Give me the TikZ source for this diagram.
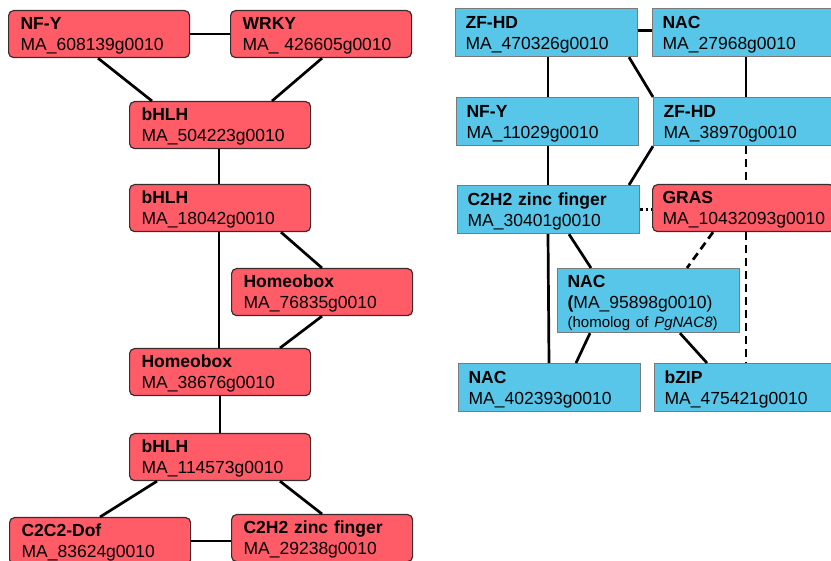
\documentclass[tikz,border=0pt]{standalone}
\usepackage{fontspec}
\setmainfont{Liberation Sans}
\definecolor{redc}{HTML}{FF5C68}
\definecolor{redb}{HTML}{3A2B2D}
\definecolor{bluec}{HTML}{58C6E8}
\definecolor{blueb}{HTML}{7A7A7A}
\begin{document}
\begin{tikzpicture}[x=1pt,y=-1pt,
  txt/.style={font=\fontsize{17.5}{21}\selectfont, align=left, anchor=north west},
  redbox/.style={txt, fill=redc, draw=redb, line width=1.2pt, rounded corners=5pt,
    minimum width=181pt, minimum height=47pt, text width=157pt, inner xsep=12pt, inner ysep=0pt},
  bluebox/.style={txt, fill=bluec, draw=blueb, line width=1.2pt,
    minimum width=182pt, minimum height=48pt, text width=162pt, inner xsep=10pt, inner ysep=0pt},
  link/.style={line width=2.7pt, black},
  dlink/.style={line width=2.7pt, black, dash pattern=on 8pt off 5pt},
  olink/.style={line width=2.7pt, black, dash pattern=on 2.5pt off 3pt}]
\useasboundingbox (0,0) rectangle (831,561);
\clip (0,0) rectangle (831,561);
\newcommand{\fl}{\rule{0pt}{16pt}}
% left column
\node[redbox] (nfy) at (8,10) {\fl\textbf{NF-Y}\\MA\_608139g0010};
\node[redbox] (wrky) at (230,10) {\fl\textbf{WRKY}\\MA\_ 426605g0010};
\node[redbox] (bhlha) at (129,101) {\fl\textbf{bHLH}\\MA\_504223g0010};
\node[redbox] (bhlhb) at (129,184) {\fl\textbf{bHLH}\\MA\_18042g0010};
\node[redbox] (hba) at (231,268) {\fl\textbf{Homeobox}\\MA\_76835g0010};
\node[redbox] (hbb) at (129,348) {\fl\textbf{Homeobox}\\MA\_38676g0010};
\node[redbox] (bhlhc) at (129,433) {\fl\textbf{bHLH}\\MA\_114573g0010};
\node[redbox] (dof) at (9,517) {\fl\textbf{C2C2-Dof}\\MA\_83624g0010};
\node[redbox] (zfl) at (231,514) {\fl\textbf{C2H2 zinc finger}\\MA\_29238g0010};
% right column
\node[bluebox] (zfa) at (455,8) {\fl\textbf{ZF-HD}\\MA\_470326g0010};
\node[bluebox] (naca) at (652,8) {\fl\textbf{NAC}\\MA\_27968g0010};
\node[bluebox] (nfyr) at (456,97) {\fl\textbf{NF-Y}\\MA\_11029g0010};
\node[bluebox] (zfb) at (653,97) {\fl\textbf{ZF-HD}\\MA\_38970g0010};
\node[bluebox] (zfr) at (457,185) {\fl\textbf{C2H2 zinc finger}\\MA\_30401g0010};
\node[redbox, minimum width=182pt, text width=162pt, inner xsep=10pt] (gras) at (652,184) {\fl\textbf{GRAS}\\MA\_10432093g0010};
\node[bluebox, minimum height=64pt] (nacm) at (557,268) {\fl\textbf{NAC}\\\textbf{(}MA\_95898g0010)\par{\fontsize{15}{19}\selectfont (homolog of \textit{PgNAC8})\par}};
\node[bluebox] (nacl) at (458,363) {\fl\textbf{NAC}\\MA\_402393g0010};
\node[bluebox] (bzip) at (654,363) {\fl\textbf{bZIP}\\MA\_475421g0010};
% left links
\draw[link] (nfy.east) -- (wrky.west);
\draw[link] ([xshift=90pt]nfy.south west) -- ([xshift=23pt]bhlha.north west);
\draw[link] ([xshift=92pt]wrky.south west) -- ([xshift=143pt]bhlha.north west);
\draw[link] ([xshift=90pt]bhlha.south west) -- ([xshift=90pt]bhlhb.north west);
\draw[link] ([xshift=90pt]bhlhb.south west) -- ([xshift=90pt]hbb.north west);
\draw[link] ([xshift=152pt]bhlhb.south west) -- ([xshift=91pt]hba.north west);
\draw[link] ([xshift=91pt]hba.south west) -- ([xshift=151pt]hbb.north west);
\draw[link] ([xshift=91pt]hbb.south west) -- ([xshift=91pt]bhlhc.north west);
\draw[link] ([xshift=28pt]bhlhc.south west) -- ([xshift=91pt]dof.north west);
\draw[link] ([xshift=151pt]bhlhc.south west) -- ([xshift=91pt]zfl.north west);
\draw[link] (dof.east) -- (dof.east -| zfl.west);
% right links
\draw[link] ([yshift=2pt]zfa.east) -- ([yshift=2pt]zfa.east -| naca.west);
\draw[link] ([xshift=93pt]zfa.south west) -- ([xshift=92pt]nfyr.north west);
\draw[link] ([xshift=174pt]zfa.south west) -- (zfb.north west);
\draw[link] ([xshift=94pt]naca.south west) -- ([xshift=93pt]zfb.north west);
\draw[link] ([xshift=92pt]nfyr.south west) -- ([xshift=91pt]zfr.north west);
\draw[link] (zfb.south west) -- ([xshift=172pt]zfr.north west);
\draw[dlink] ([xshift=93pt]zfb.south west) -- ([xshift=94pt]gras.north west);
\draw[olink] (zfr.east) -- (zfr.east -| gras.west);
\draw[link] ([xshift=91pt]zfr.south west) -- ([xshift=91pt]nacl.north west);
\draw[link] ([xshift=112pt]zfr.south west) -- ([xshift=34pt]nacm.north west);
\draw[dlink] ([xshift=61pt]gras.south west) -- ([xshift=130pt]nacm.north west);
\draw[dlink] ([xshift=94pt]gras.south west) -- ([xshift=92pt]bzip.north west);
\draw[link] ([xshift=33pt]nacm.south west) -- ([xshift=118pt]nacl.north west);
\draw[link] ([xshift=123pt]nacm.south west) -- ([xshift=53pt]bzip.north west);
\end{tikzpicture}
\end{document}
